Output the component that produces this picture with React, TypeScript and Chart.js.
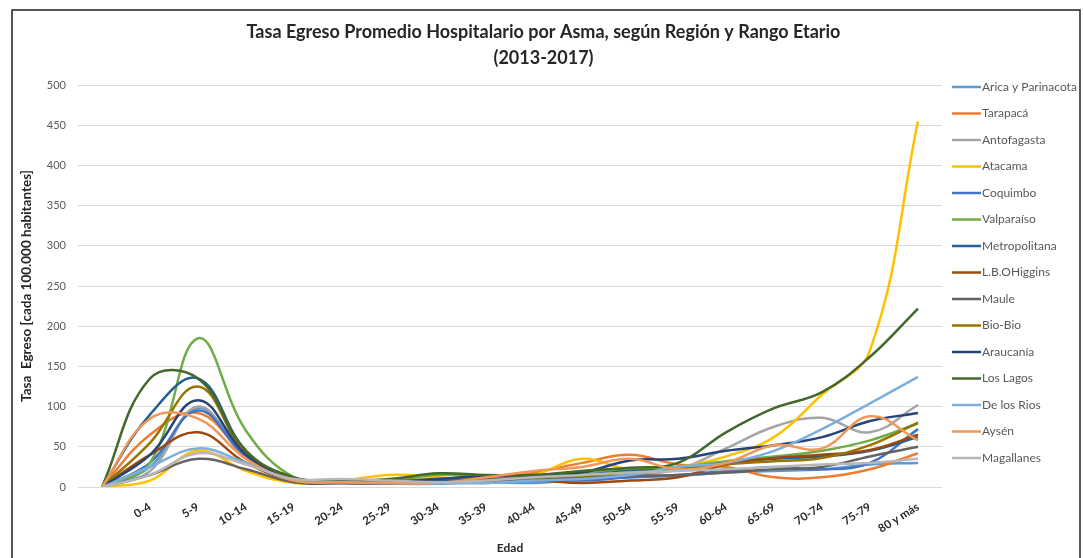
import React, { useEffect, useRef } from "react";
import { Chart, registerables } from "chart.js";

Chart.register(...registerables);

const ageGroups = ["", "0-4", "5-9", "10-14", "15-19", "20-24", "25-29", "30-34", "35-39", "40-44", "45-49", "50-54", "55-59", "60-64", "65-69", "70-74", "75-79", "80 y más"];

const yTicks = [0, 50, 100, 150, 200, 250, 300, 350, 400, 450, 500];

const titleLines = ["Tasa Egreso Promedio Hospitalario por Asma, según Región y Rango Etario", "(2013-2017)"];

const regionNames = ["Arica y Parinacota", "Tarapacá", "Antofagasta", "Atacama", "Coquimbo", "Valparaíso", "Metropolitana", "L.B.OHiggins", "Maule", "Bio-Bio", "Araucanía", "Los Lagos", "De los Rios", "Aysén", "Magallanes"];

const regionColors = ["#5B9BD5", "#ED7D31", "#A5A5A5", "#FFC000", "#4472C4", "#70AD47", "#255E91", "#9E480E", "#636363", "#997300", "#264478", "#43682B", "#7CAFDD", "#F1975A", "#B7B7B7"];

const aricaParinacota = [0, 25, 98, 40, 8, 5, 4, 4, 6, 5, 10, 12, 14, 18, 20, 22, 28, 30];
const tarapaca = [0, 65, 92, 40, 10, 6, 8, 5, 10, 18, 30, 40, 28, 25, 12, 12, 22, 42];
const antofagasta = [0, 20, 100, 35, 8, 8, 6, 8, 8, 10, 12, 15, 22, 48, 75, 86, 68, 102];
const atacama = [0, 8, 45, 20, 5, 8, 15, 12, 8, 15, 35, 22, 25, 38, 62, 115, 170, 455];
const coquimbo = [0, 30, 95, 38, 8, 5, 6, 8, 5, 10, 8, 12, 15, 20, 25, 22, 30, 72];
const valparaiso = [0, 30, 185, 70, 12, 6, 8, 15, 12, 14, 18, 22, 25, 32, 38, 45, 58, 79];
const metropolitana = [0, 90, 135, 45, 10, 6, 5, 8, 10, 12, 15, 20, 22, 30, 35, 38, 45, 62];
const ohiggins = [0, 40, 68, 30, 8, 5, 5, 6, 6, 8, 5, 8, 12, 28, 36, 40, 46, 65];
const maule = [0, 15, 35, 22, 6, 5, 5, 6, 8, 10, 12, 14, 15, 18, 22, 25, 38, 50];
const bioBio = [0, 55, 125, 42, 10, 6, 8, 10, 12, 12, 14, 18, 22, 28, 32, 36, 52, 80];
const araucania = [0, 40, 108, 40, 8, 6, 6, 10, 14, 15, 18, 33, 35, 45, 52, 62, 82, 92];
const losLagos = [0, 135, 135, 45, 12, 8, 10, 17, 15, 15, 20, 24, 30, 68, 98, 118, 162, 222];
const deLosRios = [0, 25, 48, 30, 8, 6, 5, 5, 5, 8, 10, 15, 25, 30, 45, 72, 104, 137];
const aysen = [0, 85, 85, 35, 8, 6, 5, 5, 12, 20, 25, 35, 22, 30, 52, 48, 88, 58];
const magallanes = [0, 15, 42, 28, 10, 10, 8, 6, 8, 12, 15, 18, 20, 22, 25, 28, 30, 35];

const seriesValues = [aricaParinacota, tarapaca, antofagasta, atacama, coquimbo, valparaiso, metropolitana, ohiggins, maule, bioBio, araucania, losLagos, deLosRios, aysen, magallanes];

const FONT = "Lato, 'Open Sans', sans-serif";

const decorations = {
  id: "decorations",
  afterDraw(chart: any) {
    const { ctx, chartArea, width } = chart;
    ctx.save();
    // title
    ctx.fillStyle = "#262626";
    ctx.font = `bold 18px ${FONT}`;
    ctx.textAlign = "center";
    ctx.textBaseline = "middle";
    titleLines.forEach((t, i) => ctx.fillText(t, width / 2 + 2, 32 + i * 26));
    // legend
    const x0 = chartArea.right + 10;
    const y0 = chartArea.top + 2;
    const step = 26.5;
    chart.data.datasets.forEach((ds: any, i: number) => {
      const y = y0 + i * step;
      ctx.strokeStyle = ds.borderColor;
      ctx.lineWidth = 2.5;
      ctx.beginPath();
      ctx.moveTo(x0, y);
      ctx.lineTo(x0 + 29, y);
      ctx.stroke();
      ctx.fillStyle = "#595959";
      ctx.font = `12px ${FONT}`;
      ctx.textBaseline = "middle";
      ctx.textAlign = "left";
      ctx.fillText(ds.label, x0 + 30, y);
    });
    ctx.strokeStyle = "#1f1f1f";
    ctx.lineWidth = 1.5;
    ctx.strokeRect(12, 10, 1068, 570);
    ctx.restore();
  },
};

export default function App() {
  const canvasRef = useRef<HTMLCanvasElement | null>(null);

  useEffect(() => {
    if (!canvasRef.current) return;
    const chart = new Chart(canvasRef.current, {
      type: "line",
      data: {
        labels: ageGroups,
        datasets: regionNames.map((name, i) => ({
          label: name,
          data: seriesValues[i],
          borderColor: regionColors[i],
          backgroundColor: regionColors[i],
          borderWidth: 2.5,
          pointRadius: 0,
          tension: 0.4,
          fill: false,
          order: regionNames.length - i,
        })),
      },
      options: {
        responsive: false,
        animation: false,
        layout: { padding: { left: 0, right: 141, top: 85, bottom: 0 } },
        plugins: {
          legend: { display: false },
          tooltip: { enabled: false },
          title: { display: false },
        },
        scales: {
          x: {
            offset: true,
            grid: { display: false },
            border: { display: false },
            ticks: {
              color: "#262626",
              font: { family: FONT, size: 11.5, weight: "bold" },
              maxRotation: 32,
              minRotation: 32,
              autoSkip: false,
              padding: 5,
            },
            title: {
              display: true,
              text: "Edad",
              color: "#262626",
              font: { family: FONT, size: 12, weight: "bold" },
              padding: { top: 0, bottom: 3 },
            },
            afterFit: (scale: any) => {
              scale.height = 71;
            },
          },
          y: {
            min: 0,
            max: 500,
            afterBuildTicks: (scale: any) => {
              scale.ticks = yTicks.map((v) => ({ value: v }));
            },
            grid: { color: "#D9D9D9", lineWidth: 1, drawTicks: false },
            border: { display: false },
            ticks: {
              color: "#595959",
              font: { family: FONT, size: 11 },
              padding: 12,
            },
            title: {
              display: true,
              text: "Tasa  Egreso [cada 100.000 habitantes]",
              color: "#262626",
              font: { family: FONT, size: 13.5, weight: "bold" },
              padding: { top: 19, bottom: 0 },
            },
            afterFit: (scale: any) => {
              scale.width = 78;
            },
          },
        },
      },
      plugins: [decorations],
    });
    return () => chart.destroy();
  }, []);

  return (
    <div style={{ position: "fixed", left: 0, top: 0, width: 1083, height: 558, background: "#fff" }}>
      <canvas ref={canvasRef} width={1083} height={558} style={{ display: "block" }} />
    </div>
  );
}
